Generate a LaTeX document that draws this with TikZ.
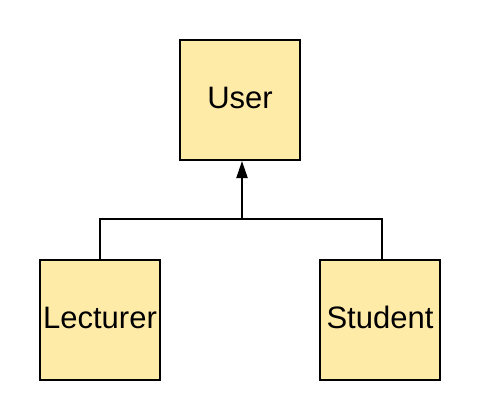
\documentclass[tikz,border=0pt]{standalone}
\usepackage{fontspec}
\setmainfont{Liberation Sans}
\usetikzlibrary{arrows.meta}
\definecolor{boxfill}{HTML}{FFEBA8}
\newcommand{\lift}[1]{\raisebox{5pt}{#1}}
\begin{document}
\begin{tikzpicture}[x=1pt,y=-1pt,
  cls/.style={draw=black,line width=2pt,fill=boxfill,minimum width=120pt,minimum height=120pt,inner sep=0pt,font=\fontsize{31}{36}\selectfont},
  conn/.style={draw=black,line width=2pt}]
\useasboundingbox (0,0) rectangle (480,420);
\node[cls] (user) at (240,100) {\lift{User}};
\node[cls] (lect) at (100,320) {\lift{Lecturer}};
\node[cls] (stud) at (380,320) {\lift{Student}};
\coordinate (j) at (242,219);
\draw[conn] (lect.north) |- (j);
\draw[conn] ([xshift=2pt]stud.north) |- (j);
\draw[conn,-{Triangle[length=17pt,width=11pt]}] (j) -- ([xshift=2pt]user.south);
\end{tikzpicture}
\end{document}
